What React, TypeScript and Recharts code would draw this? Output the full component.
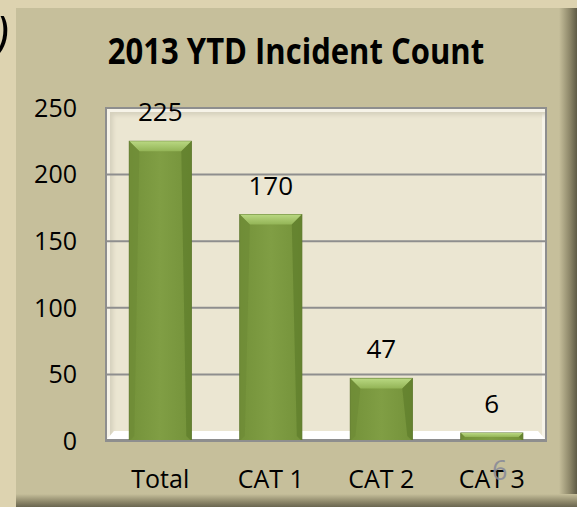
import React from 'react';
import { BarChart, Bar, XAxis, YAxis, CartesianGrid, LabelList } from 'recharts';

const categories = ['Total', 'CAT 1', 'CAT 2', 'CAT 3'];
const counts = [225, 170, 47, 6];
const yTicks = [0, 50, 100, 150, 200, 250];
const title = '2013 YTD Incident Count';

const data = categories.map((c, i) => ({ name: c, value: counts[i] }));

const FONT = '"Open Sans", "DejaVu Sans", sans-serif';

const BarShape = (props: any) => {
  const { x, y, width, height } = props;
  if (height <= 0) return null;
  const b = Math.min(10, height / 2, width / 4);
  return (
    <g>
      <rect x={x} y={y} width={width} height={height} fill="url(#barFace)" stroke="#5a742a" strokeWidth={1} />
      <polygon
        points={`${x},${y} ${x + width},${y} ${x + width - b},${y + b} ${x + b},${y + b}`}
        fill="url(#barTop)"
      />
      <polygon
        points={`${x + width},${y} ${x + width},${y + height} ${x + width - b * 0.5},${y + height - b * 0.5} ${x + width - b},${y + b}`}
        fill="#61802d"
        opacity={0.8}
      />
      <polygon
        points={`${x},${y} ${x + b},${y + b} ${x + b * 0.5},${y + height - b * 0.5} ${x},${y + height}`}
        fill="#6f8c37"
        opacity={0.8}
      />
    </g>
  );
};

export default function App() {
  return (
    <div style={{ position: 'absolute', left: 0, top: 0, width: 577, height: 507, overflow: 'hidden', background: '#ddd3b0' }}>
      <div style={{ position: 'absolute', left: 16, top: 8, width: 561, height: 499, background: '#c6bf9b' }} />
      <div style={{ position: 'absolute', left: 559, top: 8, width: 18, height: 499, background: 'linear-gradient(to right, #c6bf9b, #8d8769 60%, #5f5b46)' }} />
      <div style={{ position: 'absolute', left: 16, top: 494, width: 561, height: 13, background: 'linear-gradient(to bottom, #c6bf9b, #8d8769 60%, #6a6650)' }} />
      <div style={{ position: 'absolute', left: -5, top: 2, fontFamily: FONT, fontSize: 50, fontStyle: 'italic', color: '#000', lineHeight: '60px' }}>)</div>
      <div style={{ position: 'absolute', left: 96, top: 28, width: 400, textAlign: 'center', fontFamily: FONT, fontWeight: 700, fontSize: 31, color: '#000', lineHeight: '44px', transform: 'scaleY(1.15)', transformOrigin: '50% 50%', whiteSpace: 'nowrap' }}>{title}</div>
      {/* plot frame */}
      <div style={{ position: 'absolute', left: 105, top: 107, width: 442, height: 334, background: '#ebe6d2', boxSizing: 'border-box', border: '2px solid #8e8e8e', boxShadow: 'inset 3px 3px 0 #f6f3e8, inset 6px 6px 4px #d5d0bd, inset -3px 0 0 #f6f3e8' }} />
      <svg style={{ position: 'absolute', left: 0, top: 0 }} width={577} height={507}>
        <polygon points="107,439 545,439 538,431 114,431" fill="#ffffff" />
      </svg>
      <div style={{ position: 'absolute', left: 0, top: 0 }}>
        <BarChart width={577} height={507} data={data} margin={{ top: 108, right: 30, bottom: 36, left: 45 }} barCategoryGap="22%">
          <defs>
            <linearGradient id="barFace" x1="0" y1="0" x2="1" y2="0">
              <stop offset="0%" stopColor="#74923a" />
              <stop offset="50%" stopColor="#809e44" />
              <stop offset="100%" stopColor="#74923a" />
            </linearGradient>
            <linearGradient id="barTop" x1="0" y1="0" x2="0" y2="1">
              <stop offset="0%" stopColor="#b9d882" />
              <stop offset="100%" stopColor="#93b456" />
            </linearGradient>
          </defs>
          <CartesianGrid vertical={false} stroke="#8e8e8e" strokeWidth={2} />
          <XAxis
            dataKey="name"
            axisLine={{ stroke: '#8e8e8e', strokeWidth: 2 }}
            tickLine={false}
            tickSize={0}
            tickMargin={29}
            tick={{ fill: '#000', fontSize: 25, fontFamily: FONT }}
            interval={0}
          />
          <YAxis
            width={60}
            domain={[0, 250]}
            ticks={yTicks}
            axisLine={false}
            tickLine={false}
            tickSize={0}
            tickMargin={28}
            tick={{ fill: '#000', fontSize: 25, fontFamily: FONT }}
          />
          <Bar dataKey="value" shape={BarShape} isAnimationActive={false}>
            <LabelList dataKey="value" position="top" offset={20} fill="#000" fontSize={26} fontFamily={FONT} />
          </Bar>
        </BarChart>
      </div>
      <div style={{ position: 'absolute', left: 492, top: 450, fontFamily: FONT, fontSize: 27, color: '#8a8c98', lineHeight: '40px', opacity: 0.9 }}>6</div>
    </div>
  );
}
